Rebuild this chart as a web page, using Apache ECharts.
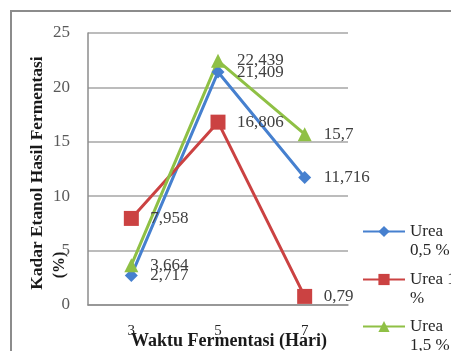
<!DOCTYPE html>
<html>
<head>
<meta charset="utf-8">
<script src="https://cdn.jsdelivr.net/npm/echarts@6/dist/echarts.min.js"></script>
<style>
  html, body { margin: 0; padding: 0; background: #ffffff; }
  #chart { width: 451px; height: 351px; }
</style>
</head>
<body>
<div id="chart"></div>
<script>
// Fermentation time (days) and ethanol content (%) per urea dose
const days = ['3', '5', '7'];
const urea05 = [2.717, 21.409, 11.716];
const urea10 = [7.958, 16.806, 0.79];
const urea15 = [3.664, 22.439, 15.7];
const seriesNames = ['Urea 0,5 %', 'Urea 1 %', 'Urea 1,5 %'];
const legendLabels = ['Urea\n0,5 %', 'Urea 1\n%', 'Urea\n1,5 %'];
const yTicks = [0, 5, 10, 15, 20, 25];

const serif = '"Liberation Serif", "DejaVu Serif", serif';
const comma = v => String(v).replace('.', ',');

function lineSeries(name, data, color, symbol, size) {
  return {
    name: name,
    type: 'line',
    data: data,
    symbol: symbol,
    symbolSize: size,
    lineStyle: { color: color, width: 3 },
    itemStyle: { color: color },
    label: {
      show: true,
      position: 'right',
      distance: 19 - size / 2,
      fontFamily: serif,
      fontSize: 17,
      color: '#404040',
      formatter: p => comma(p.value)
    },
    z: 3
  };
}

// One legend block per series; a leading blank line keeps the first
// text line level with the legend icon.
const legendTops = [203, 251, 298];
const legends = seriesNames.map((name, i) => ({
  orient: 'vertical',
  left: 362,
  top: legendTops[i],
  padding: 0,
  itemGap: 0,
  itemWidth: 42,
  itemHeight: 14,
  data: [name],
  formatter: n => ' \n' + legendLabels[seriesNames.indexOf(n)],
  textStyle: {
    fontFamily: serif,
    fontSize: 17,
    color: '#262626',
    lineHeight: 19
  }
}));

const chart = echarts.init(document.getElementById('chart'), null, { renderer: 'canvas' });
chart.setOption({
  animation: false,
  backgroundColor: '#ffffff',
  grid: { left: 88, top: 33, right: 103, bottom: 46, outerBoundsMode: 'none', containLabel: false },
  graphic: [
    {
      type: 'rect',
      shape: { x: 11, y: 11, width: 600, height: 600 },
      style: { fill: 'none', stroke: '#8c8c8c', lineWidth: 2 },
      silent: true
    },
    {
      type: 'text',
      x: 38, y: 173,
      rotation: Math.PI / 2,
      style: {
        text: 'Kadar Etanol Hasil Fermentasi',
        font: 'bold 17.4px ' + serif,
        fill: '#1a1a1a',
        align: 'center',
        verticalAlign: 'middle'
      }
    },
    {
      type: 'text',
      x: 60, y: 265,
      rotation: Math.PI / 2,
      style: {
        text: '(%)',
        font: 'bold 16px ' + serif,
        fill: '#1a1a1a',
        align: 'center',
        verticalAlign: 'middle'
      }
    }
  ],
  legend: legends,
  xAxis: {
    type: 'category',
    data: days,
    boundaryGap: true,
    axisLine: { show: true, lineStyle: { color: '#8c8c8c', width: 1.5 } },
    axisTick: { show: false },
    axisLabel: { margin: 19, fontFamily: serif, fontSize: 15, color: '#262626' },
    name: 'Waktu Fermentasi (Hari)',
    nameLocation: 'middle',
    nameGap: 27,
    nameMoveOverlap: false,
    nameTextStyle: {
      fontFamily: serif, fontSize: 18, fontWeight: 'bold', color: '#1a1a1a',
      padding: [0, 0, 0, 22]
    }
  },
  yAxis: {
    type: 'value',
    min: yTicks[0],
    max: yTicks[yTicks.length - 1],
    interval: 5,
    axisLine: { show: true, lineStyle: { color: '#8c8c8c', width: 1.5 } },
    axisTick: { show: false },
    splitLine: { show: true, lineStyle: { color: '#a6a6a6', width: 1.5 } },
    axisLabel: { margin: 18, fontFamily: serif, fontSize: 17, color: '#595959' }
  },
  series: [
    lineSeries(seriesNames[0], urea05, '#4680cf', 'diamond', 13),
    lineSeries(seriesNames[1], urea10, '#cb4242', 'rect', 15),
    lineSeries(seriesNames[2], urea15, '#8fc045', 'triangle', 14)
  ]
});
</script>
</body>
</html>
